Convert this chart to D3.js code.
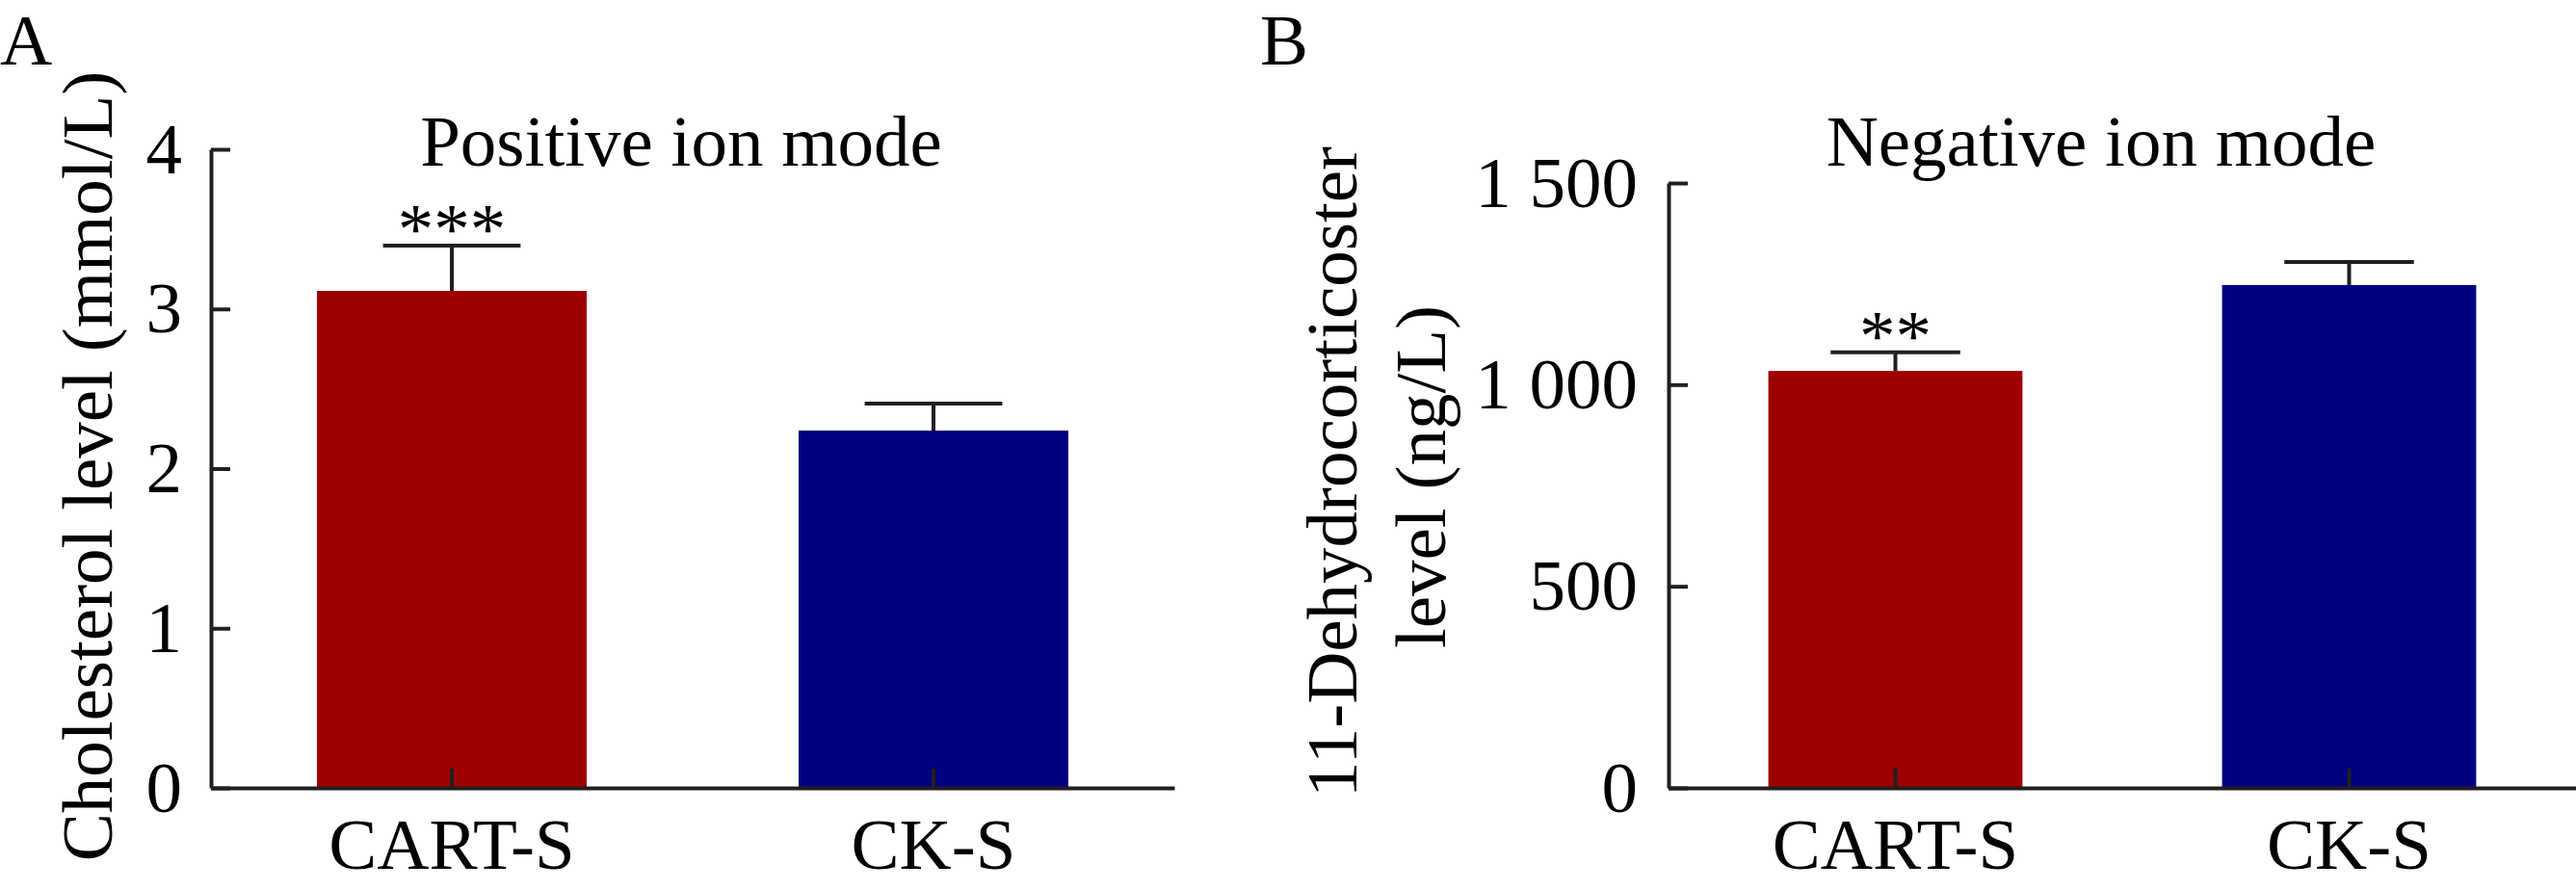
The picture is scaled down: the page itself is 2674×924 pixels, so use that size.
<!DOCTYPE html>
<html>
<head>
<meta charset="utf-8">
<script src="https://cdn.jsdelivr.net/npm/d3@7"></script>
<style>
  body { margin: 0; background: #fff; }
  svg { display: block; }
  text { font-family: "Liberation Serif", "Times New Roman", serif; fill: #000; }
</style>
</head>
<body>
<svg id="chart" width="2674" height="924"></svg>
<script>
// data
const groups = ["CART-S", "CK-S"];
const barColors = ["#9e0000", "#000080"];

// panel A: positive ion mode, cholesterol
const cholMeans = [3.113, 2.238];
const cholErrors = [0.284, 0.169];
const cholStars = ["***", ""];
const cholTicks = [0, 1, 2, 3, 4];

// panel B: negative ion mode, 11-dehydrocorticosterone
const dehydroMeans = [1034, 1247];
const dehydroErrors = [46, 57];
const dehydroStars = ["**", ""];
const dehydroTicks = [0, 500, 1000, 1500];

const axisColor = "#231f20";
const fontSize = 75;

var svg = d3.select("#chart");
svg.append("rect").attr("width", 2674).attr("height", 924).attr("fill", "#fff");

const spaced = d3.formatLocale({ decimal: ".", thousands: " ", grouping: [3], currency: ["", ""] });

function drawPanel(cfg) {
  const g = svg.append("g");

  const x = d3.scaleBand()
    .domain(groups)
    .range([cfg.left, cfg.right])
    .paddingInner(0.44)
    .paddingOuter(0.22);

  const y = d3.scaleLinear()
    .domain([0, cfg.max])
    .range([cfg.bottom, cfg.top]);

  const rows = groups.map((name, i) => ({
    name: name, mean: cfg.means[i], err: cfg.errors[i], stars: cfg.stars[i], colour: barColors[i]
  }));

  //bars
  g.selectAll(".bar")
    .data(rows)
    .enter()
    .append("rect")
      .attr("class", "bar")
      .attr("x", d => x(d.name))
      .attr("y", d => y(d.mean))
      .attr("width", x.bandwidth())
      .attr("height", d => y(0) - y(d.mean))
      .attr("fill", d => d.colour);

  //error bars (upper only)
  const capW = x.bandwidth() * 0.51;
  const eb = g.selectAll(".err")
    .data(rows)
    .enter()
    .append("g")
      .attr("class", "err")
      .attr("stroke", axisColor)
      .attr("stroke-width", 4);
  eb.append("line")
    .attr("x1", d => x(d.name) + x.bandwidth() / 2)
    .attr("x2", d => x(d.name) + x.bandwidth() / 2)
    .attr("y1", d => y(d.mean))
    .attr("y2", d => y(d.mean + d.err));
  eb.append("line")
    .attr("x1", d => x(d.name) + x.bandwidth() / 2 - capW / 2)
    .attr("x2", d => x(d.name) + x.bandwidth() / 2 + capW / 2)
    .attr("y1", d => y(d.mean + d.err))
    .attr("y2", d => y(d.mean + d.err));

  //significance stars
  g.selectAll(".stars")
    .data(rows)
    .enter()
    .append("text")
      .attr("class", "stars")
      .attr("x", d => x(d.name) + x.bandwidth() / 2)
      .attr("y", d => y(d.mean + d.err) + 8)
      .attr("text-anchor", "middle")
      .style("font-size", fontSize + "px")
      .text(d => d.stars);

  //axes
  const yAxis = g.append("g")
    .attr("transform", "translate(" + cfg.left + ",0)")
    .call(d3.axisLeft(y).tickValues(cfg.ticks).tickFormat(cfg.fmt)
      .tickSize(-20).tickSizeOuter(0).tickPadding(cfg.labelGap));

  const xAxis = g.append("g")
    .attr("transform", "translate(0," + cfg.bottom + ")")
    .call(d3.axisBottom(x).tickSize(-20).tickSizeOuter(0).tickPadding(31));

  [yAxis, xAxis].forEach(a => {
    a.attr("font-family", null).attr("font-size", null);
    a.select(".domain").attr("stroke", axisColor).attr("stroke-width", 4);
    a.selectAll(".tick line").attr("stroke", axisColor).attr("stroke-width", 4);
    a.selectAll(".tick text").attr("fill", "#000").style("font-size", fontSize + "px");
  });

  //title
  g.append("text")
    .attr("x", cfg.titleX)
    .attr("y", 172)
    .attr("text-anchor", "middle")
    .style("font-size", fontSize + "px")
    .text(cfg.title);

  //y label, one text per line
  cfg.yLabel.forEach((line, i) => {
    g.append("text")
      .attr("transform", "translate(" + cfg.yLabelX[i] + "," + cfg.yLabelY[i] + ") rotate(-90)")
      .attr("text-anchor", "middle")
      .style("font-size", fontSize + "px")
      .text(line);
  });

  //panel letter
  g.append("text")
    .attr("x", cfg.letterX)
    .attr("y", 67)
    .style("font-size", fontSize + "px")
    .text(cfg.letter);
}

drawPanel({
  letter: "A", letterX: 0,
  left: 219, right: 1219, top: 155, bottom: 818,
  max: 4, ticks: cholTicks, fmt: d3.format("d"), labelGap: 30,
  means: cholMeans, errors: cholErrors, stars: cholStars,
  title: "Positive ion mode", titleX: 707,
  yLabel: ["Cholesterol level (mmol/L)"], yLabelX: [116], yLabelY: [484]
});

drawPanel({
  letter: "B", letterX: 1308,
  left: 1732, right: 2674, top: 190, bottom: 818,
  max: 1500, ticks: dehydroTicks, fmt: spaced.format(",d"), labelGap: 32,
  means: dehydroMeans, errors: dehydroErrors, stars: dehydroStars,
  title: "Negative ion mode", titleX: 2181,
  yLabel: ["11-Dehydrocorticoster", "level (ng/L)"], yLabelX: [1408, 1500], yLabelY: [490, 495]
});
</script>
</body>
</html>
